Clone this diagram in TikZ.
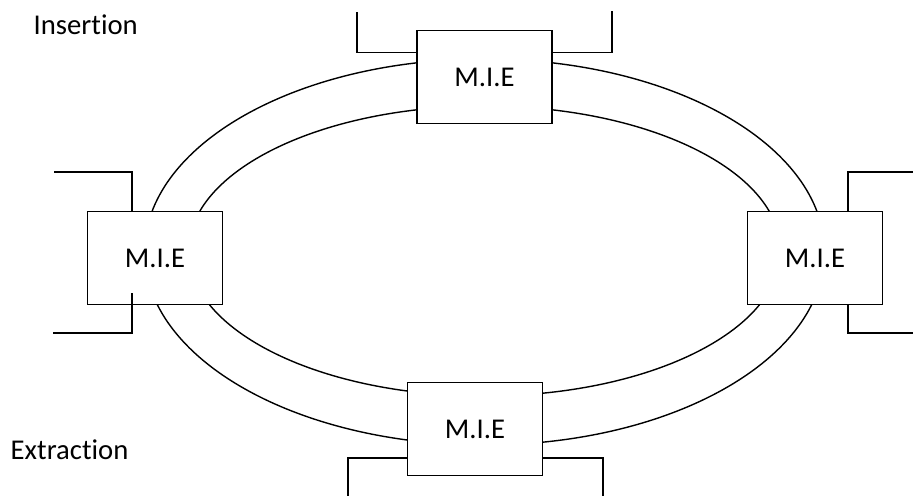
\documentclass[tikz,border=0pt]{standalone}
\usepackage{fontspec}
\setmainfont{Carlito}[Ligatures=NoCommon]
\usetikzlibrary{positioning,calc}

\begin{document}
\begin{tikzpicture}[x=0.75pt, y=-0.75pt, line width=1.05pt,
    mie/.style={draw, rectangle, fill=white, minimum width=101pt, minimum height=70pt, inner sep=0pt, align=center, font=\fontsize{21.5}{25}\selectfont},
    tag/.style={inner sep=0pt, anchor=base west, font=\fontsize{21.5}{25}\selectfont}]

    \useasboundingbox (0,0) rectangle (913,496);

    % Ring
    \draw (484.5,252) ellipse [x radius=340, y radius=193];
    \draw (484.5,251) ellipse [x radius=296, y radius=145];

    % Multiplexers
    \node[mie] (mieTop) at (484.5,77) {M.I.E};
    \node[mie] (mieLeft) at (155,258) {M.I.E};
    \node[mie] (mieRight) at (815,258) {M.I.E};
    \node[mie] (mieBottom) at (475,429) {M.I.E};

    % Labels
    \node[tag] (insertion) at (33,34) {Insertion};
    \node[tag] (extraction) at (10,459) {Extraction};

    % Free ends
    \coordinate (topInL) at (357,12);
    \coordinate (topInR) at (612,11);
    \coordinate (leftInT) at (54,172);
    \coordinate (leftOutB) at (53,333);
    \coordinate (rightInT) at (913,172);
    \coordinate (rightOutB) at (913,333);
    \coordinate (botOutL) at (348,496);
    \coordinate (botOutR) at (603,496);

    % Connections
    \draw (mieTop.160) -| (topInL);
    \draw (mieTop.20) -| (topInR);
    \draw (mieLeft.116) |- (leftInT);
    \draw ($(mieLeft.244)+(0,-12)$) |- (leftOutB);
    \draw (mieRight.55) |- (rightInT);
    \draw (mieRight.305) |- (rightOutB);
    \draw (mieBottom.203) -| (botOutL);
    \draw (mieBottom.337) -| (botOutR);

\end{tikzpicture}
\end{document}
